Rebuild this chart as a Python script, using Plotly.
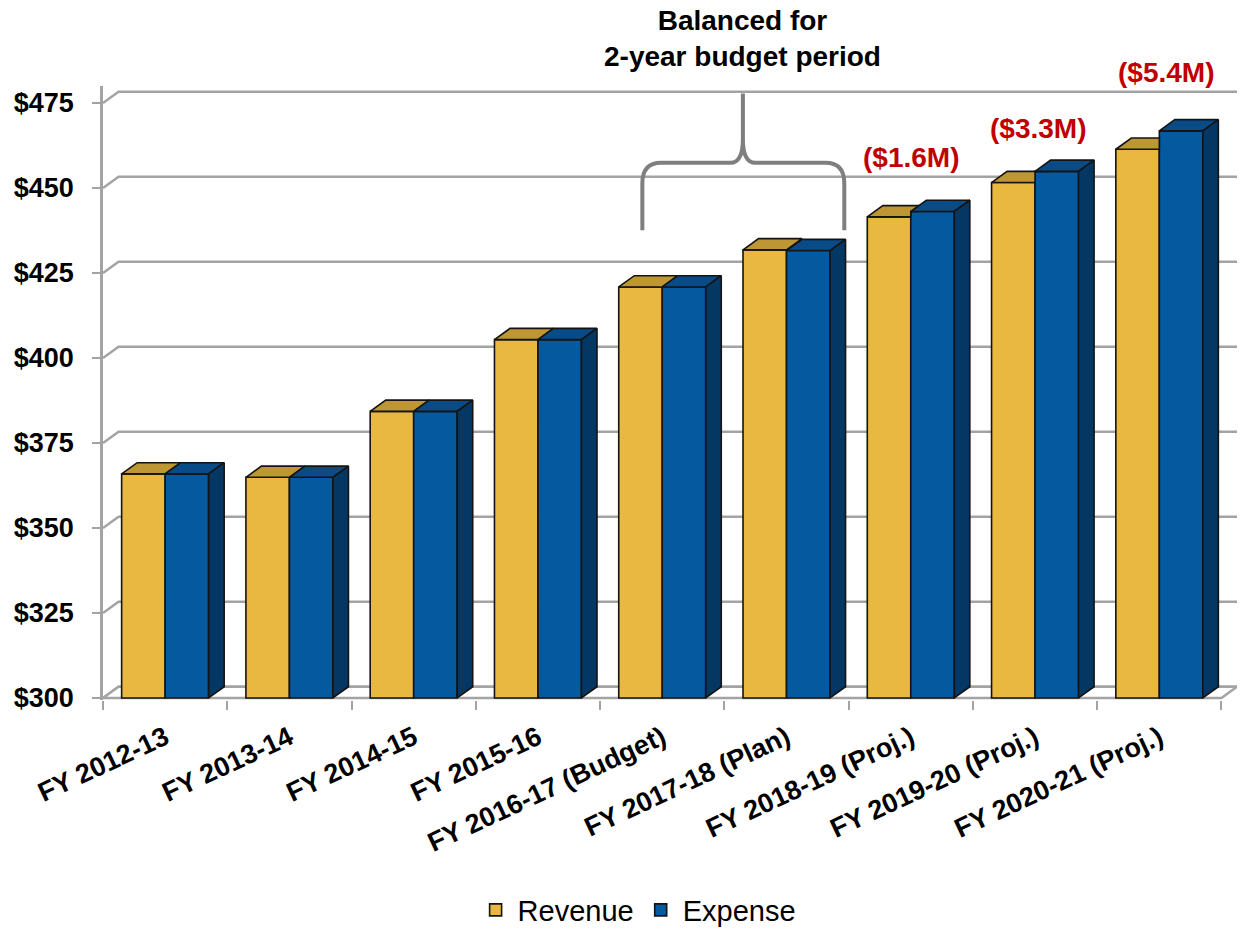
import plotly.graph_objects as go

# ---------------- data ----------------
categories = ["FY 2012-13", "FY 2013-14", "FY 2014-15", "FY 2015-16",
              "FY 2016-17 (Budget)", "FY 2017-18 (Plan)", "FY 2018-19 (Proj.)",
              "FY 2019-20 (Proj.)", "FY 2020-21 (Proj.)"]
revenue = [365.9, 364.9, 384.3, 405.4, 420.9, 431.8, 441.5, 451.6, 461.4]
expense = [365.9, 364.9, 384.3, 405.4, 420.9, 431.6, 443.1, 454.9, 466.8]
y_ticks = [300, 325, 350, 375, 400, 425, 450, 475]
gap_idx = [6, 7, 8]                       # categories with a projected deficit

# ---------------- style ----------------
REV_FRONT, REV_TOP = "#E9B840", "#BE9634"
EXP_FRONT, EXP_TOP, EXP_SIDE = "#05599E", "#084B87", "#053764"
EDGE = "#141414"
GRID = "#A3A3A3"
FONT = "Liberation Sans, Arial, sans-serif"
W = 0.35          # bar width (category units)
DX, DY = 0.125, 3.3   # depth offset of the 3D look
BASE = y_ticks[0]
n = len(categories)
pos = list(range(n))

fig = go.Figure()

# front faces (real bars)
fig.add_trace(go.Bar(x=pos, y=[v - BASE for v in revenue], base=BASE, offset=-W, width=W,
                     name="Revenue", marker=dict(color=REV_FRONT, line=dict(color=EDGE, width=1.6))))
fig.add_trace(go.Bar(x=pos, y=[v - BASE for v in expense], base=BASE, offset=0, width=W,
                     name="Expense", marker=dict(color=EXP_FRONT, line=dict(color=EDGE, width=1.6))))

# revenue top faces (clipped where hidden by expense front face)
rx, ry = [], []
for i, (r, e) in enumerate(zip(revenue, expense)):
    A = (i - W, r); B = (i - W + DX, r + DY)
    if e >= r + DY:
        pts = [A, B, (i, r + DY), (i, r)]
    elif e >= r:
        pts = [A, B, (i + DX, r + DY), (i + (e - r) * DX / DY, e), (i, e), (i, r)]
    else:
        pts = [A, B, (i + DX, r + DY), (i, r)]
    pts.append(A)
    rx += [p[0] for p in pts] + [None]
    ry += [p[1] for p in pts] + [None]
fig.add_trace(go.Scatter(x=rx, y=ry, mode="lines", fill="toself", fillcolor=REV_TOP,
                         line=dict(color=EDGE, width=1.6), showlegend=False, hoverinfo="skip"))

# expense top and side faces
tx, ty, sx, sy = [], [], [], []
for i, e in enumerate(expense):
    top = [(i, e), (i + DX, e + DY), (i + W + DX, e + DY), (i + W, e), (i, e)]
    side = [(i + W, BASE), (i + W, e), (i + W + DX, e + DY), (i + W + DX, BASE + DY), (i + W, BASE)]
    tx += [p[0] for p in top] + [None]; ty += [p[1] for p in top] + [None]
    sx += [p[0] for p in side] + [None]; sy += [p[1] for p in side] + [None]
fig.add_trace(go.Scatter(x=tx, y=ty, mode="lines", fill="toself", fillcolor=EXP_TOP,
                         line=dict(color=EDGE, width=1.6), showlegend=False, hoverinfo="skip"))
fig.add_trace(go.Scatter(x=sx, y=sy, mode="lines", fill="toself", fillcolor=EXP_SIDE,
                         line=dict(color=EDGE, width=1.6), showlegend=False, hoverinfo="skip"))

# back-wall gridlines and floor
x_lo, x_hi = -0.5, n - 0.5
shapes = []
for v in y_ticks:
    shapes.append(dict(type="path", xref="x", yref="y", layer="below",
                       path=f"M {x_lo},{v} L {x_lo + DX},{v + DY} L {x_hi + DX},{v + DY}",
                       line=dict(color=GRID, width=2.5)))
shapes.append(dict(type="path", xref="x", yref="y", layer="below",
                   path=f"M {x_lo},{BASE} L {x_hi},{BASE} L {x_hi + DX},{BASE + DY} L {x_lo + DX},{BASE + DY} Z",
                   line=dict(color=GRID, width=2.5), fillcolor="white"))

# curly brace over the balanced 2-year budget period
bx0, bx1, bxm = 3.84, 5.465, 4.649
by0, byh, byt = 437.6, 457.4, 477.8
brace = (f"M {bx0},{by0} L {bx0},{byh - 6} Q {bx0},{byh} {bx0 + 0.15},{byh} "
         f"L {bxm - 0.1},{byh} Q {bxm},{byh} {bxm},{byh + 7} L {bxm},{byt} "
         f"M {bxm},{byh + 7} Q {bxm},{byh} {bxm + 0.1},{byh} "
         f"L {bx1 - 0.15},{byh} Q {bx1},{byh} {bx1},{byh - 6} L {bx1},{by0}")
shapes.append(dict(type="path", xref="x", yref="y", layer="above", path=brace,
                   line=dict(color="#7F7F7F", width=4)))

annotations = [dict(text="Balanced for<br>2-year budget period", xref="x", x=bxm,
                    yref="paper", y=1.078, yanchor="middle", showarrow=False,
                    font=dict(family=FONT, size=28, color="black", weight="bold"))]
label_x = [6.0, 7.02, 8.05]
label_y = [0.884, 0.93, 1.022]
for k, i in enumerate(gap_idx):
    gap = expense[i] - revenue[i]
    annotations.append(dict(text=f"(${gap:.1f}M)", xref="x", yref="paper", x=label_x[k], y=label_y[k],
                            showarrow=False, yanchor="middle",
                            font=dict(family=FONT, size=28, color="#C00000", weight="bold")))

fig.update_layout(
    width=1243, height=929, autosize=False,
    margin=dict(l=103, r=6, t=86, b=229, pad=0),
    paper_bgcolor="white", plot_bgcolor="white",
    barmode="overlay", shapes=shapes, annotations=annotations,
    font=dict(family=FONT, color="black"),
    legend=dict(orientation="h", xref="paper", x=0.471, xanchor="center",
                yref="container", y=1 - 910 / 929, yanchor="middle",
                font=dict(family=FONT, size=29, color="black"), itemwidth=34,
                bgcolor="rgba(0,0,0,0)"),
    xaxis=dict(range=[x_lo, x_hi + DX], tickvals=pos, ticktext=categories, tickangle=-25,
               ticks="", showgrid=False, zeroline=False, showline=False,
               tickfont=dict(family=FONT, size=27, color="black", weight="bold"),
               ticklabelstandoff=16,
               minor=dict(tickvals=[p - 0.5 for p in range(n + 1)], ticks="outside",
                          ticklen=9, tickwidth=2, tickcolor=GRID, showgrid=False)),
    yaxis=dict(range=[BASE - 0.6, 480], tickvals=y_ticks, ticktext=[f"${v}" for v in y_ticks],
               ticks="outside", ticklen=8, tickwidth=2, tickcolor=GRID,
               showgrid=False, zeroline=False, showline=True, linecolor=GRID, linewidth=2.5,
               tickfont=dict(family=FONT, size=27, color="black", weight="bold"),
               ticklabelstandoff=13),
)

fig.write_html("out.html")
